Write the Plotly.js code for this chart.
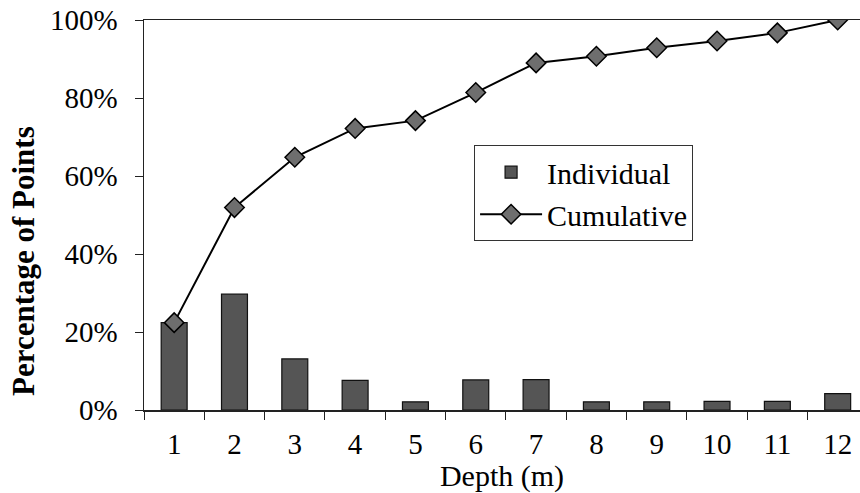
<!DOCTYPE html>
<html>
<head>
<meta charset="utf-8">
<script src="https://cdn.plot.ly/plotly-3.0.1.min.js"></script>
<style>html,body{margin:0;padding:0;background:#fff;overflow:hidden;}#chart{width:860px;height:493px;}</style>
</head>
<body>
<div id="chart"></div>
<script>
const depths = ['1','2','3','4','5','6','7','8','9','10','11','12'];
const individual = [0.224, 0.297, 0.131, 0.076, 0.021, 0.077, 0.078, 0.021, 0.021, 0.022, 0.022, 0.042];
const cumulative = [0.224, 0.519, 0.648, 0.722, 0.742, 0.814, 0.890, 0.907, 0.929, 0.946, 0.967, 1.000];
const yTicks = [0, 0.2, 0.4, 0.6, 0.8, 1.0];

const FONT = 'Liberation Serif';
const AX = '#222';

const traces = [
  {
    type: 'bar', name: 'Individual', x: depths, y: individual,
    width: 0.43, legendgroup: 'a',
    marker: {color: '#555555', line: {color: '#111', width: 1.2}},
    xaxis: 'x', yaxis: 'y'
  },
  {
    type: 'scatter', mode: 'lines+markers', name: 'Cumulative', x: depths, y: cumulative,
    legendgroup: 'b',
    line: {color: '#000', width: 2},
    marker: {symbol: 'diamond', size: 15, color: '#6e6e6e', line: {color: '#000', width: 1.5}},
    xaxis: 'x', yaxis: 'y'
  }
];

const n = depths.length;
const xRange = [-0.5, n - 0.63];          // category index range (plot is cut at the right edge)
const xRange2 = [xRange[0] + 1, xRange[1] + 1]; // same range on the 1-based linear overlay axis
const boundaries = [0.5].concat(depths.map((d, i) => i + 1.5));

const layout = {
  width: 860, height: 493,
  margin: {l: 144, r: 0, t: 20, b: 83},
  paper_bgcolor: '#fff', plot_bgcolor: '#fff',
  font: {family: FONT, color: '#000', size: 29},
  showlegend: true,
  legend: {
    x: 0.461, y: 0.679, xanchor: 'left', yanchor: 'top',
    bgcolor: '#fff', bordercolor: '#333', borderwidth: 1,
    font: {family: FONT, size: 30, color: '#000'},
    itemwidth: 62, tracegroupgap: 0
  },
  xaxis: {
    type: 'category', categoryorder: 'array', categoryarray: depths,
    range: xRange, tickson: 'boundaries',
    ticks: 'outside', ticklen: 8, tickcolor: AX, tickwidth: 1,
    showline: true, linecolor: AX, linewidth: 1.5, mirror: true,
    showgrid: false, zeroline: false,
    tickfont: {family: FONT, size: 29},
    ticklabelstandoff: 8,
    title: {text: 'Depth (m)', font: {family: FONT, size: 30}, standoff: 0}
  },
  xaxis2: {
    overlaying: 'x', type: 'linear', range: xRange2,
    tickmode: 'array', tickvals: boundaries,
    ticks: 'inside', ticklen: 8, tickcolor: AX, tickwidth: 1,
    showticklabels: false, showline: false, showgrid: false, zeroline: false,
    anchor: 'y'
  },
  yaxis: {
    range: [0, 1], tickmode: 'array', tickvals: yTicks, tickformat: '.0%',
    ticks: 'outside', ticklen: 8, tickcolor: AX, tickwidth: 1,
    showline: true, linecolor: AX, linewidth: 1.5,
    showgrid: false, zeroline: false,
    tickfont: {family: FONT, size: 29},
    ticklabelstandoff: 11
  },
  yaxis2: {
    overlaying: 'y', range: [0, 1], tickmode: 'array', tickvals: yTicks,
    ticks: 'inside', ticklen: 8, tickcolor: AX, tickwidth: 1,
    showticklabels: false, showline: false, showgrid: false, zeroline: false,
    anchor: 'x'
  },
  annotations: [{
    text: '<b>Percentage of Points</b>', textangle: -90,
    xref: 'paper', yref: 'paper', x: -0.169, y: 0.382,
    xanchor: 'center', yanchor: 'middle', showarrow: false,
    font: {family: FONT, size: 31, color: '#000'}
  }]
};

Plotly.newPlot('chart', traces, layout, {displayModeBar: false, staticPlot: true});
</script>
</body>
</html>
